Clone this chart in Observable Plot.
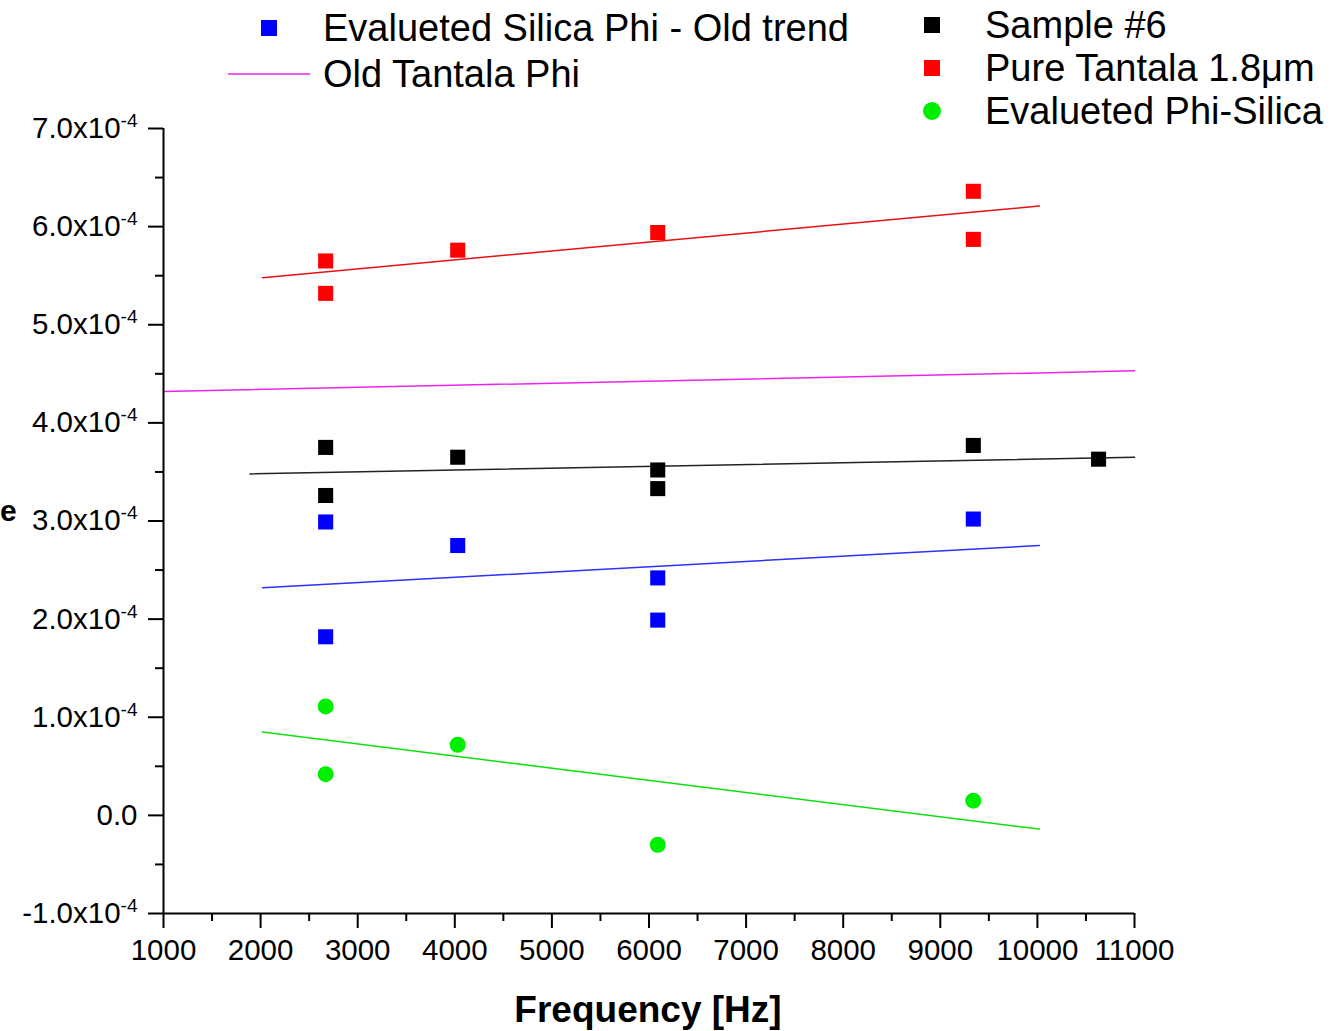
<!DOCTYPE html>
<html><head><meta charset="utf-8">
<script src="https://cdn.jsdelivr.net/npm/d3@7"></script>
<script src="https://cdn.jsdelivr.net/npm/@observablehq/plot@0.6"></script>
<style>
html,body{margin:0;padding:0;background:#fff;}
#chart{position:relative;width:1343px;height:1031px;overflow:hidden;}
</style></head><body><div id="chart"></div>
<script>
// Values of phi in units of 1e-4
const sample6X = [2670, 2670, 4030, 6090, 6090, 9340, 10630];
const sample6Y = [3.75, 3.26, 3.65, 3.52, 3.33, 3.77, 3.63];
const tantalaX = [2670, 2670, 4030, 6090, 9340, 9340];
const tantalaY = [5.65, 5.32, 5.76, 5.94, 6.36, 5.87];
const silicaOldX = [2670, 2670, 4030, 6090, 6090, 9340];
const silicaOldY = [2.99, 1.82, 2.75, 2.42, 1.99, 3.02];
const phiSilicaX = [2670, 2670, 4030, 6090, 9340];
const phiSilicaY = [1.11, 0.42, 0.72, -0.30, 0.15];

// Linear fit lines (end points)
const tantalaFitX = [2020, 10020];
const tantalaFitY = [5.48, 6.21];
const oldTantalaX = [1000, 11000];
const oldTantalaY = [4.32, 4.53];
const sample6FitX = [1890, 11000];
const sample6FitY = [3.48, 3.65];
const silicaOldFitX = [2020, 10020];
const silicaOldFitY = [2.32, 2.75];
const phiSilicaFitX = [2020, 10020];
const phiSilicaFitY = [0.85, -0.14];

const xTicks = [1000, 2000, 3000, 4000, 5000, 6000, 7000, 8000, 9000, 10000, 11000];
const xMinor = [1500, 2500, 3500, 4500, 5500, 6500, 7500, 8500, 9500, 10500];
const yTicks = [-1, 0, 1, 2, 3, 4, 5, 6, 7];
const yMinor = [-0.5, 0.5, 1.5, 2.5, 3.5, 4.5, 5.5, 6.5];

const xLabel = "Frequency [Hz]";
const legendLeft = [
  {label: "Evalueted Silica Phi - Old trend", kind: "square", color: "#0000ff"},
  {label: "Old Tantala Phi", kind: "line", color: "#ee22ee"}
];
const legendRight = [
  {label: "Sample #6", kind: "square", color: "#000000"},
  {label: "Pure Tantala 1.8\u03bcm", kind: "square", color: "#ff0000"},
  {label: "Evalueted Phi-Silica", kind: "circle", color: "#00ee00"}
];

const pts = (xs, ys) => xs.map((x, i) => ({x, y: ys[i]}));

const FONT = "'Liberation Sans', Arial, Helvetica, sans-serif";

const plot = Plot.plot({
  width: 1343,
  height: 1031,
  marginLeft: 163,
  marginRight: 209,
  marginTop: 128,
  marginBottom: 118,
  style: {fontFamily: FONT, fontSize: "29px", color: "#000", background: "#fff"},
  x: {domain: [1000, 11000]},
  y: {domain: [-1, 7]},
  marks: [
    Plot.line(pts(oldTantalaX, oldTantalaY), {x: "x", y: "y", stroke: "#ee22ee", strokeWidth: 1.5}),
    Plot.line(pts(tantalaFitX, tantalaFitY), {x: "x", y: "y", stroke: "#e81010", strokeWidth: 1.5}),
    Plot.line(pts(sample6FitX, sample6FitY), {x: "x", y: "y", stroke: "#222", strokeWidth: 1.5}),
    Plot.line(pts(silicaOldFitX, silicaOldFitY), {x: "x", y: "y", stroke: "#3030ff", strokeWidth: 1.5}),
    Plot.line(pts(phiSilicaFitX, phiSilicaFitY), {x: "x", y: "y", stroke: "#10e010", strokeWidth: 1.5}),
    Plot.dot(pts(tantalaX, tantalaY), {x: "x", y: "y", symbol: "square", r: 8.5, fill: "#ff0000"}),
    Plot.dot(pts(sample6X, sample6Y), {x: "x", y: "y", symbol: "square", r: 8.5, fill: "#000000"}),
    Plot.dot(pts(silicaOldX, silicaOldY), {x: "x", y: "y", symbol: "square", r: 8.5, fill: "#0000ff"}),
    Plot.dot(pts(phiSilicaX, phiSilicaY), {x: "x", y: "y", r: 8, fill: "#00ee00"}),
    Plot.axisY(yMinor, {tickSize: 8, tickFormat: () => "", strokeWidth: 2, label: null}),
    Plot.axisX(xMinor, {tickSize: 8, tickFormat: () => "", strokeWidth: 2, label: null}),
    Plot.axisY(yTicks, {tickSize: 15, tickPadding: 11, strokeWidth: 2, label: null, fontSize: 29.5,
      tickFormat: d => d === 0 ? "0.0" : d.toFixed(1) + "x10|-4"}),
    Plot.axisX(xTicks, {tickSize: 15, tickPadding: 11, strokeWidth: 2, label: null, fontSize: 29.5,
      tickFormat: d3.format("d")}),
    Plot.ruleX([1000], {strokeWidth: 2}),
    Plot.ruleY([-1], {strokeWidth: 2})
  ]
});

const svg = d3.select(plot);
// superscripts on y tick labels
svg.selectAll("text").each(function() {
  const t = this.textContent;
  if (t.includes("|")) {
    const [base, exp] = t.split("|");
    const el = d3.select(this);
    el.text(null);
    el.append("tspan").text(base);
    el.append("tspan").attr("dy", -11).attr("font-size", 19).text(exp);
  }
});

// x axis title
svg.append("text").attr("x", 648).attr("y", 1022).attr("text-anchor", "middle")
  .attr("font-family", FONT).attr("font-weight", "bold").attr("font-size", 37).text(xLabel);

// y axis title fragment (reference shows only its last letter at the left edge)
svg.append("text").attr("x", 0).attr("y", 521).attr("text-anchor", "start")
  .attr("font-family", FONT).attr("font-weight", "bold").attr("font-size", 30).text("e");

// legend
const lg = svg.append("g").attr("font-family", FONT).attr("font-size", 38).attr("text-anchor", "start");
function legendItem(item, mx, tx, cy) {
  if (item.kind === "square") {
    lg.append("rect").attr("x", mx - 8).attr("y", cy - 8).attr("width", 16).attr("height", 16).attr("fill", item.color);
  } else if (item.kind === "circle") {
    lg.append("circle").attr("cx", mx).attr("cy", cy).attr("r", 9).attr("fill", item.color);
  } else {
    lg.append("line").attr("x1", mx - 41).attr("x2", mx + 41).attr("y1", cy).attr("y2", cy)
      .attr("stroke", item.color).attr("stroke-width", 1.5);
  }
  lg.append("text").attr("x", tx).attr("y", cy).attr("dy", "0.35em").attr("text-anchor", "start").text(item.label);
}
legendLeft.forEach((it, i) => legendItem(it, 269, 323, 28 + i * 46));
legendRight.forEach((it, i) => legendItem(it, 932, 985, 25 + i * 43));

document.getElementById("chart").appendChild(plot);
</script>
</body></html>
